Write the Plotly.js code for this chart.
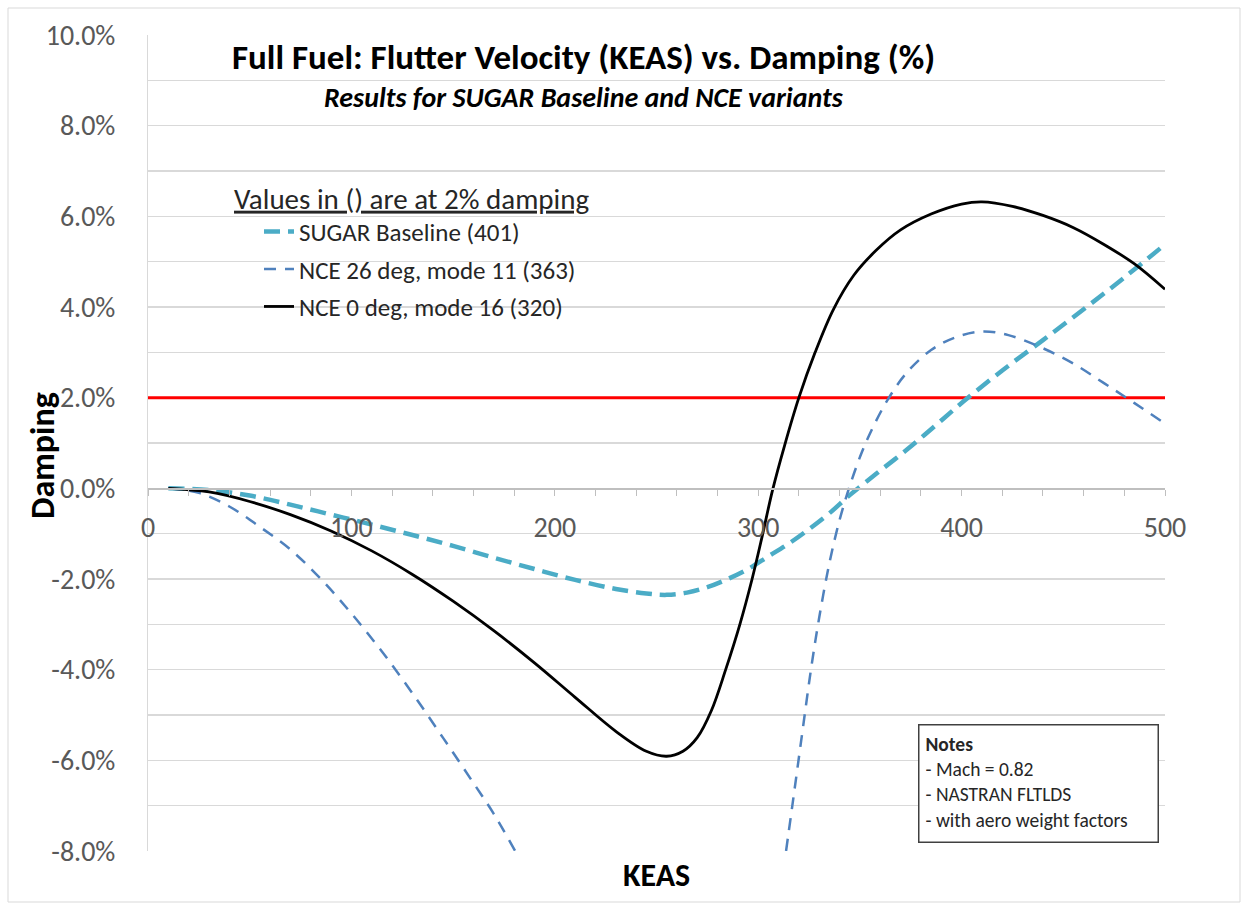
<!DOCTYPE html>
<html>
<head>
<meta charset="utf-8">
<script src="https://cdn.plot.ly/plotly-3.0.1.min.js"></script>
<style>
  html, body { margin: 0; padding: 0; background: #ffffff; }
  #chart { width: 1249px; height: 909px; }
</style>
</head>
<body>
<div id="chart"></div>
<script>
// ---- Data (damping in %, speed in KEAS) ----
const sugarX = [10, 30, 50, 70, 90, 110, 130, 150, 170, 190, 210, 230, 245, 255, 265, 275, 285, 295, 305, 315, 325, 335, 345, 358, 373, 387, 401, 420, 440, 460, 480, 500];
const sugarY = [0, -0.04, -0.16, -0.36, -0.58, -0.8, -1.03, -1.27, -1.53, -1.78, -2.02, -2.22, -2.32, -2.35, -2.3, -2.18, -2.0, -1.78, -1.5, -1.22, -0.9, -0.55, -0.15, 0.32, 0.85, 1.38, 1.92, 2.6, 3.27, 3.95, 4.65, 5.38];

// NCE 26 deg, mode 11: leaves the chart below -8% between the two branches
const nce26X = [10, 25, 40, 55, 70, 85, 100, 115, 130, 145, 160, 170, 180.5, null, 313.7, 318, 322, 326, 330, 335, 340, 345, 351, 357, 364, 373, 385, 397, 410, 423, 439, 455, 470, 485, 500];
const nce26Y = [0, -0.1, -0.4, -0.85, -1.35, -2.0, -2.76, -3.6, -4.52, -5.5, -6.5, -7.18, -8.0, null, -8.0, -6.6, -5.28, -3.98, -2.85, -1.65, -0.7, 0.05, 0.8, 1.4, 1.98, 2.55, 3.05, 3.33, 3.46, 3.38, 3.11, 2.75, 2.32, 1.88, 1.43];

const nce0X = [10, 30, 50, 70, 90, 110, 130, 150, 170, 190, 210, 230, 245, 255, 263, 270, 277, 284, 291, 297, 302, 307, 313, 320, 328, 337, 347, 358, 370, 385, 400, 410, 425, 440, 455, 470, 485, 500];
const nce0Y = [0, -0.08, -0.29, -0.58, -0.94, -1.38, -1.9, -2.49, -3.14, -3.85, -4.61, -5.36, -5.8, -5.91, -5.8, -5.5, -4.9, -4.0, -3.0, -2.0, -1.05, -0.05, 0.95, 2.0, 3.0, 3.95, 4.7, 5.25, 5.7, 6.05, 6.27, 6.32, 6.22, 6.02, 5.75, 5.38, 4.95, 4.39];

const limitX = [0, 500];
const limitY = [2, 2];

const seriesNames = ["SUGAR Baseline (401)", "NCE 26 deg, mode 11 (363)", "NCE 0 deg, mode 16 (320)"];
const yTickVals = [-8, -6, -4, -2, 0, 2, 4, 6, 8, 10];
const yTickText = ["-8.0%", "-6.0%", "-4.0%", "-2.0%", "0.0%", "2.0%", "4.0%", "6.0%", "8.0%", "10.0%"];
const xTickVals = [0, 100, 200, 300, 400, 500];

const pct = a => a.map(v => v === null ? null : v / 100);

const FONT = "Carlito, Lato, 'Liberation Sans', sans-serif";

const traces = [
  {
    x: limitX, y: pct(limitY), mode: "lines", showlegend: false, hoverinfo: "skip",
    line: { color: "#ff0000", width: 3 }
  },
  {
    name: seriesNames[0], legendgroup: "a",
    x: sugarX, y: pct(sugarY), mode: "lines",
    line: { color: "#4bacc6", width: 4.5, dash: "16px,8px", shape: "spline", smoothing: 1 }
  },
  {
    name: seriesNames[1], legendgroup: "b",
    x: nce26X, y: pct(nce26Y), mode: "lines", connectgaps: false,
    line: { color: "#4f81bd", width: 2.5, dash: "12px,9px", shape: "spline", smoothing: 1 }
  },
  {
    name: seriesNames[2], legendgroup: "c",
    x: nce0X, y: pct(nce0Y), mode: "lines",
    line: { color: "#000000", width: 2.8, shape: "spline", smoothing: 1 }
  }
];

const L = 148, R = 84, T = 35, B = 58, W = 1249, H = 909;
const pw = W - L - R, ph = H - T - B;
const px = p => (p - L) / pw;
const py = p => (H - B - p) / ph;

const layout = {
  width: W, height: H,
  margin: { l: L, r: R, t: T, b: B, pad: 0 },
  paper_bgcolor: "#ffffff", plot_bgcolor: "#ffffff",
  font: { family: FONT, color: "#595959" },
  showlegend: true,
  legend: {
    x: px(232), y: py(171), xanchor: "left", yanchor: "top",
    bgcolor: "rgba(0,0,0,0)",
    font: { size: 25, color: "#262626", family: FONT },
    title: { text: "<u>Values in () are at 2% damping</u>", font: { size: 29, color: "#262626", family: FONT } },
    traceorder: "grouped", tracegroupgap: 2,
    indentation: 27
  },
  xaxis: {
    range: [0, 500], anchor: "free", position: 0.08 / 0.18,
    tickvals: xTickVals, ticks: "outside", ticklen: 6, tickcolor: "#bfbfbf",
    minor: { dtick: 20, ticks: "outside", ticklen: 6, tickcolor: "#bfbfbf", showgrid: false },
    showline: true, linecolor: "#bfbfbf", linewidth: 1.5,
    showgrid: false, zeroline: false, ticklabelstandoff: 8,
    tickfont: { size: 28, color: "#595959", family: FONT },
    fixedrange: true
  },
  yaxis: {
    range: [-0.08, 0.10], tickvals: pct(yTickVals), ticktext: yTickText,
    showgrid: true, gridcolor: "#d9d9d9", gridwidth: 1.3,
    minor: { dtick: 0.01, showgrid: true, gridcolor: "#d9d9d9", gridwidth: 1.3, ticks: "" },
    showline: true, linecolor: "#d9d9d9", zeroline: false,
    ticks: "", ticklabelstandoff: 26,
    tickfont: { size: 28, color: "#595959", family: FONT },
    fixedrange: true
  },
  shapes: [
    { type: "rect", xref: "paper", yref: "paper",
      x0: px(8), x1: px(1240), y0: py(902), y1: py(8),
      line: { color: "#d9d9d9", width: 1 }, fillcolor: "rgba(0,0,0,0)", layer: "below" }
  ],
  annotations: [
    { xref: "paper", yref: "paper", x: px(583), y: py(57), xanchor: "center", yanchor: "middle",
      text: "<b>Full Fuel: Flutter Velocity (KEAS) vs. Damping (%)</b>", showarrow: false,
      font: { size: 35, color: "#000000", family: FONT } },
    { xref: "paper", yref: "paper", x: px(584), y: py(98), xanchor: "center", yanchor: "middle",
      text: "<b><i>Results for SUGAR Baseline and NCE variants</i></b>", showarrow: false,
      font: { size: 28, color: "#000000", family: FONT } },
    { xref: "paper", yref: "paper", x: px(656), y: py(876), xanchor: "center", yanchor: "middle",
      text: "<b>KEAS</b>", showarrow: false,
      font: { size: 32, color: "#000000", family: FONT } },
    { xref: "paper", yref: "paper", x: px(43), y: py(456), xanchor: "center", yanchor: "middle",
      text: "<b>Damping</b>", showarrow: false, textangle: -90,
      font: { size: 34, color: "#000000", family: FONT } },
    { xref: "paper", yref: "paper", x: px(918), y: py(724), xanchor: "left", yanchor: "top",
      text: "<b>Notes</b><br>- Mach = 0.82<br>- NASTRAN FLTLDS<br>- with aero weight factors",
      showarrow: false, align: "left", valign: "top",
      width: 226, height: 104, borderpad: 6,
      bordercolor: "#404040", borderwidth: 1.5, bgcolor: "#ffffff",
      font: { size: 19.5, color: "#262626", family: FONT } }
  ]
};

Plotly.newPlot("chart", traces, layout, { displayModeBar: false, staticPlot: true });
</script>
</body>
</html>
